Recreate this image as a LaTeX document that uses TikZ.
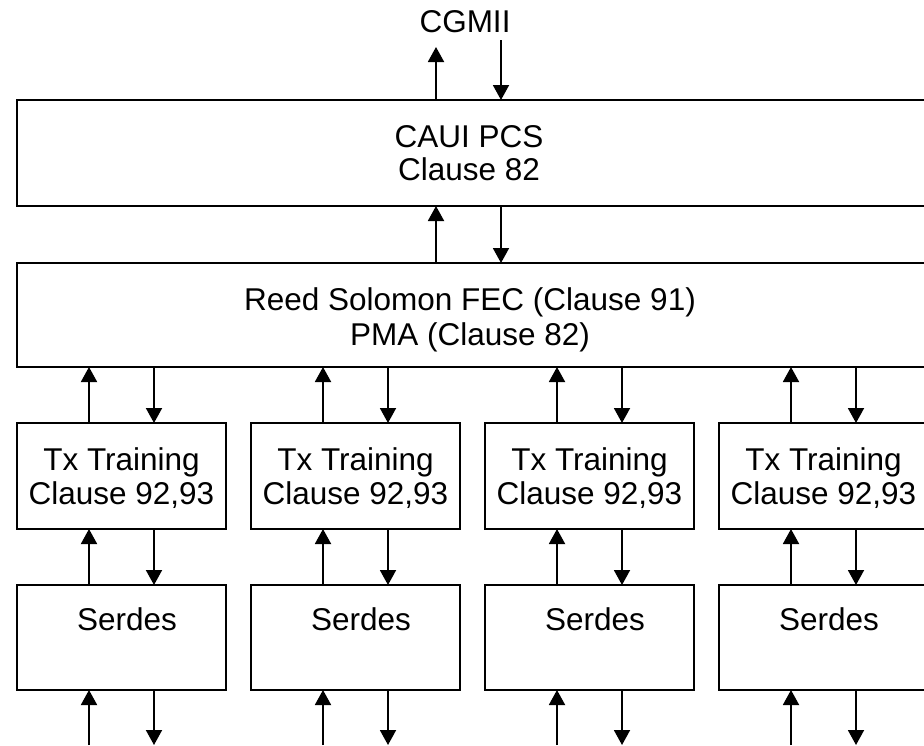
\documentclass[tikz,border=0pt]{standalone}
\usepackage{fontspec}
\setmainfont{Liberation Sans}
\usetikzlibrary{arrows.meta}
\begin{document}
\begin{tikzpicture}[x=1pt,y=-1pt,
  blk/.style={draw, line width=2.2pt, rectangle, inner sep=0pt, outer sep=0pt, anchor=north west},
  lbl/.style={font=\fontsize{31.5}{34}\selectfont, anchor=base, inner sep=0pt},
  conn/.style={line width=1.9pt, -{Triangle[length=15pt,width=16pt]}}
]
\useasboundingbox (0,0) rectangle (924,745);
\clip (0,0) rectangle (924,745);

% top level boxes
\node[blk, minimum width=912pt, minimum height=106pt] (caui) at (17,100) {};
\node[blk, minimum width=912pt, minimum height=104pt] (rs) at (17,263) {};

\node[lbl] (cgmii) at (465,32) {CGMII};
\node[lbl] (cauiA) at (469,147) {CAUI PCS};
\node[lbl] (cauiB) at (469,180) {Clause 82};
\node[lbl] (rsA) at (470,310) {Reed Solomon FEC (Clause 91)};
\node[lbl] (rsB) at (470,345) {PMA (Clause 82)};

% top connectors
\coordinate (tu) at (436,0);
\coordinate (td) at (501,0);
\coordinate (cgU) at (436,47);
\coordinate (cgD) at (501,40);
\draw[conn] (tu |- caui.north) -- (cgU);
\draw[conn] (cgD) -- (td |- caui.north);
\draw[conn] (tu |- rs.north) -- (tu |- caui.south);
\draw[conn] (td |- caui.south) -- (td |- rs.north);

% columns
\foreach \i in {0,1,2,3}{
  \pgfmathsetmacro{\bx}{17+234*\i}
  \pgfmathsetmacro{\cx}{121.5+234*\i}
  \pgfmathsetmacro{\sx}{127+234*\i}
  \pgfmathsetmacro{\uxv}{89+234*\i}
  \pgfmathsetmacro{\dxv}{154+234*\i}
  \node[blk, minimum width=209pt, minimum height=106pt] (tx\i) at (\bx,423) {};
  \node[blk, minimum width=209pt, minimum height=105pt] (ser\i) at (\bx,585) {};
  \node[lbl] (txA\i) at (\cx,470) {Tx Training};
  \node[lbl] (txB\i) at (\cx,504) {Clause 92,93};
  \node[lbl] (serT\i) at (\sx,630) {Serdes};
  \coordinate (ux\i) at (\uxv,0);
  \coordinate (dx\i) at (\dxv,0);
  \coordinate (bu\i) at (\uxv,745);
  \coordinate (bd\i) at (\dxv,745);
  \draw[conn] (ux\i |- tx\i.north) -- (ux\i |- rs.south);
  \draw[conn] (dx\i |- rs.south) -- (dx\i |- tx\i.north);
  \draw[conn] (ux\i |- ser\i.north) -- (ux\i |- tx\i.south);
  \draw[conn] (dx\i |- tx\i.south) -- (dx\i |- ser\i.north);
  \draw[conn] (bu\i) -- (ux\i |- ser\i.south);
  \draw[conn] (dx\i |- ser\i.south) -- (bd\i);
}
\end{tikzpicture}
\end{document}
